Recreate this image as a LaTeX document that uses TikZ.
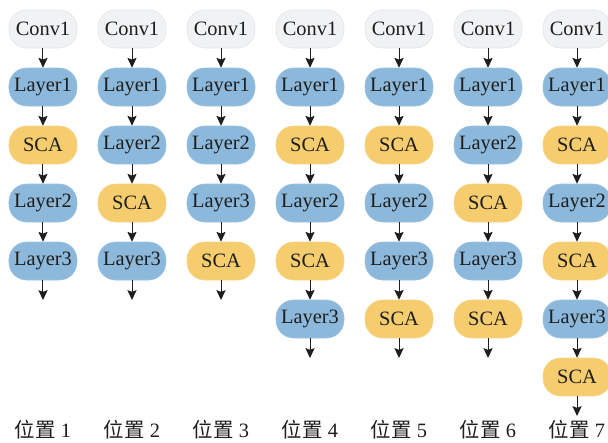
\documentclass[tikz,border=0pt]{standalone}
\usepackage{fontspec}
\setmainfont{Liberation Serif}
\newfontfamily\cjkfont{Noto Sans CJK SC}
\usetikzlibrary{arrows.meta}

\definecolor{convgray}{HTML}{F1F2F4}
\definecolor{convline}{HTML}{E2E3E6}
\definecolor{layerblue}{HTML}{8CB9DB}
\definecolor{layerline}{HTML}{9CC3E0}
\definecolor{scayellow}{HTML}{F5CC6E}
\definecolor{scaline}{HTML}{F7D589}
\definecolor{inkdark}{HTML}{1E1E1E}

\begin{document}
\begin{tikzpicture}[x=2.225cm,y=1.45cm]
		\tikzstyle{block}=[rounded corners=0.44cm, minimum width=1.7cm, minimum height=0.95cm, inner sep=0pt, font=\fontsize{14.5}{17}\selectfont, text=inkdark]
		\tikzstyle{conv}=[block, fill=convgray, draw=convline]
		\tikzstyle{layer}=[block, fill=layerblue, draw=layerline]
		\tikzstyle{sca}=[block, fill=scayellow, draw=scaline]
		\tikzstyle{flow}=[draw=inkdark, line width=0.7pt, -{Stealth[length=7pt,width=6.5pt,inset=1.2pt]}]
		\tikzstyle{caption}=[font=\fontsize{14.5}{17}\selectfont, text=inkdark]

		\useasboundingbox (-0.483,0.5) rectangle (6.348,-7.121);

		% position 1
		 \node [conv]  (a0) at (0,0)  {Conv1};
		 \node [layer] (a1) at (0,-1) {Layer1};
		 \node [sca]   (a2) at (0,-2) {SCA};
		 \node [layer] (a3) at (0,-3) {Layer2};
		 \node [layer] (a4) at (0,-4) {Layer3};
		 \coordinate   (aend) at (0,-4.672);

		% position 2
		 \node [conv]  (b0) at (1,0)  {Conv1};
		 \node [layer] (b1) at (1,-1) {Layer1};
		 \node [layer] (b2) at (1,-2) {Layer2};
		 \node [sca]   (b3) at (1,-3) {SCA};
		 \node [layer] (b4) at (1,-4) {Layer3};
		 \coordinate   (bend) at (1,-4.672);

		% position 3
		 \node [conv]  (c0) at (2,0)  {Conv1};
		 \node [layer] (c1) at (2,-1) {Layer1};
		 \node [layer] (c2) at (2,-2) {Layer2};
		 \node [layer] (c3) at (2,-3) {Layer3};
		 \node [sca]   (c4) at (2,-4) {SCA};
		 \coordinate   (cend) at (2,-4.672);

		% position 4
		 \node [conv]  (d0) at (3,0)  {Conv1};
		 \node [layer] (d1) at (3,-1) {Layer1};
		 \node [sca]   (d2) at (3,-2) {SCA};
		 \node [layer] (d3) at (3,-3) {Layer2};
		 \node [sca]   (d4) at (3,-4) {SCA};
		 \node [layer] (d5) at (3,-5) {Layer3};
		 \coordinate   (dend) at (3,-5.672);

		% position 5
		 \node [conv]  (e0) at (4,0)  {Conv1};
		 \node [layer] (e1) at (4,-1) {Layer1};
		 \node [sca]   (e2) at (4,-2) {SCA};
		 \node [layer] (e3) at (4,-3) {Layer2};
		 \node [layer] (e4) at (4,-4) {Layer3};
		 \node [sca]   (e5) at (4,-5) {SCA};
		 \coordinate   (eend) at (4,-5.672);

		% position 6
		 \node [conv]  (f0) at (5,0)  {Conv1};
		 \node [layer] (f1) at (5,-1) {Layer1};
		 \node [layer] (f2) at (5,-2) {Layer2};
		 \node [sca]   (f3) at (5,-3) {SCA};
		 \node [layer] (f4) at (5,-4) {Layer3};
		 \node [sca]   (f5) at (5,-5) {SCA};
		 \coordinate   (fend) at (5,-5.672);

		% position 7
		 \node [conv]  (g0) at (6,0)  {Conv1};
		 \node [layer] (g1) at (6,-1) {Layer1};
		 \node [sca]   (g2) at (6,-2) {SCA};
		 \node [layer] (g3) at (6,-3) {Layer2};
		 \node [sca]   (g4) at (6,-4) {SCA};
		 \node [layer] (g5) at (6,-5) {Layer3};
		 \node [sca]   (g6) at (6,-6) {SCA};
		 \coordinate   (gend) at (6,-6.672);

		 \path[flow] (a0) -- (a1);
		 \path[flow] (a1) -- (a2);
		 \path[flow] (a2) -- (a3);
		 \path[flow] (a3) -- (a4);
		 \path[flow] (a4) -- (aend);

		 \path[flow] (b0) -- (b1);
		 \path[flow] (b1) -- (b2);
		 \path[flow] (b2) -- (b3);
		 \path[flow] (b3) -- (b4);
		 \path[flow] (b4) -- (bend);

		 \path[flow] (c0) -- (c1);
		 \path[flow] (c1) -- (c2);
		 \path[flow] (c2) -- (c3);
		 \path[flow] (c3) -- (c4);
		 \path[flow] (c4) -- (cend);

		 \path[flow] (d0) -- (d1);
		 \path[flow] (d1) -- (d2);
		 \path[flow] (d2) -- (d3);
		 \path[flow] (d3) -- (d4);
		 \path[flow] (d4) -- (d5);
		 \path[flow] (d5) -- (dend);

		 \path[flow] (e0) -- (e1);
		 \path[flow] (e1) -- (e2);
		 \path[flow] (e2) -- (e3);
		 \path[flow] (e3) -- (e4);
		 \path[flow] (e4) -- (e5);
		 \path[flow] (e5) -- (eend);

		 \path[flow] (f0) -- (f1);
		 \path[flow] (f1) -- (f2);
		 \path[flow] (f2) -- (f3);
		 \path[flow] (f3) -- (f4);
		 \path[flow] (f4) -- (f5);
		 \path[flow] (f5) -- (fend);

		 \path[flow] (g0) -- (g1);
		 \path[flow] (g1) -- (g2);
		 \path[flow] (g2) -- (g3);
		 \path[flow] (g3) -- (g4);
		 \path[flow] (g4) -- (g5);
		 \path[flow] (g5) -- (g6);
		 \path[flow] (g6) -- (gend);

		% captions
		 \node [caption] (la) at (0,-6.9) {{\cjkfont 位置} 1};
		 \node [caption] (lb) at (1,-6.9) {{\cjkfont 位置} 2};
		 \node [caption] (lc) at (2,-6.9) {{\cjkfont 位置} 3};
		 \node [caption] (ld) at (3,-6.9) {{\cjkfont 位置} 4};
		 \node [caption] (le) at (4,-6.9) {{\cjkfont 位置} 5};
		 \node [caption] (lf) at (5,-6.9) {{\cjkfont 位置} 6};
		 \node [caption] (lg) at (6,-6.9) {{\cjkfont 位置} 7};

	\end{tikzpicture}
\end{document}
